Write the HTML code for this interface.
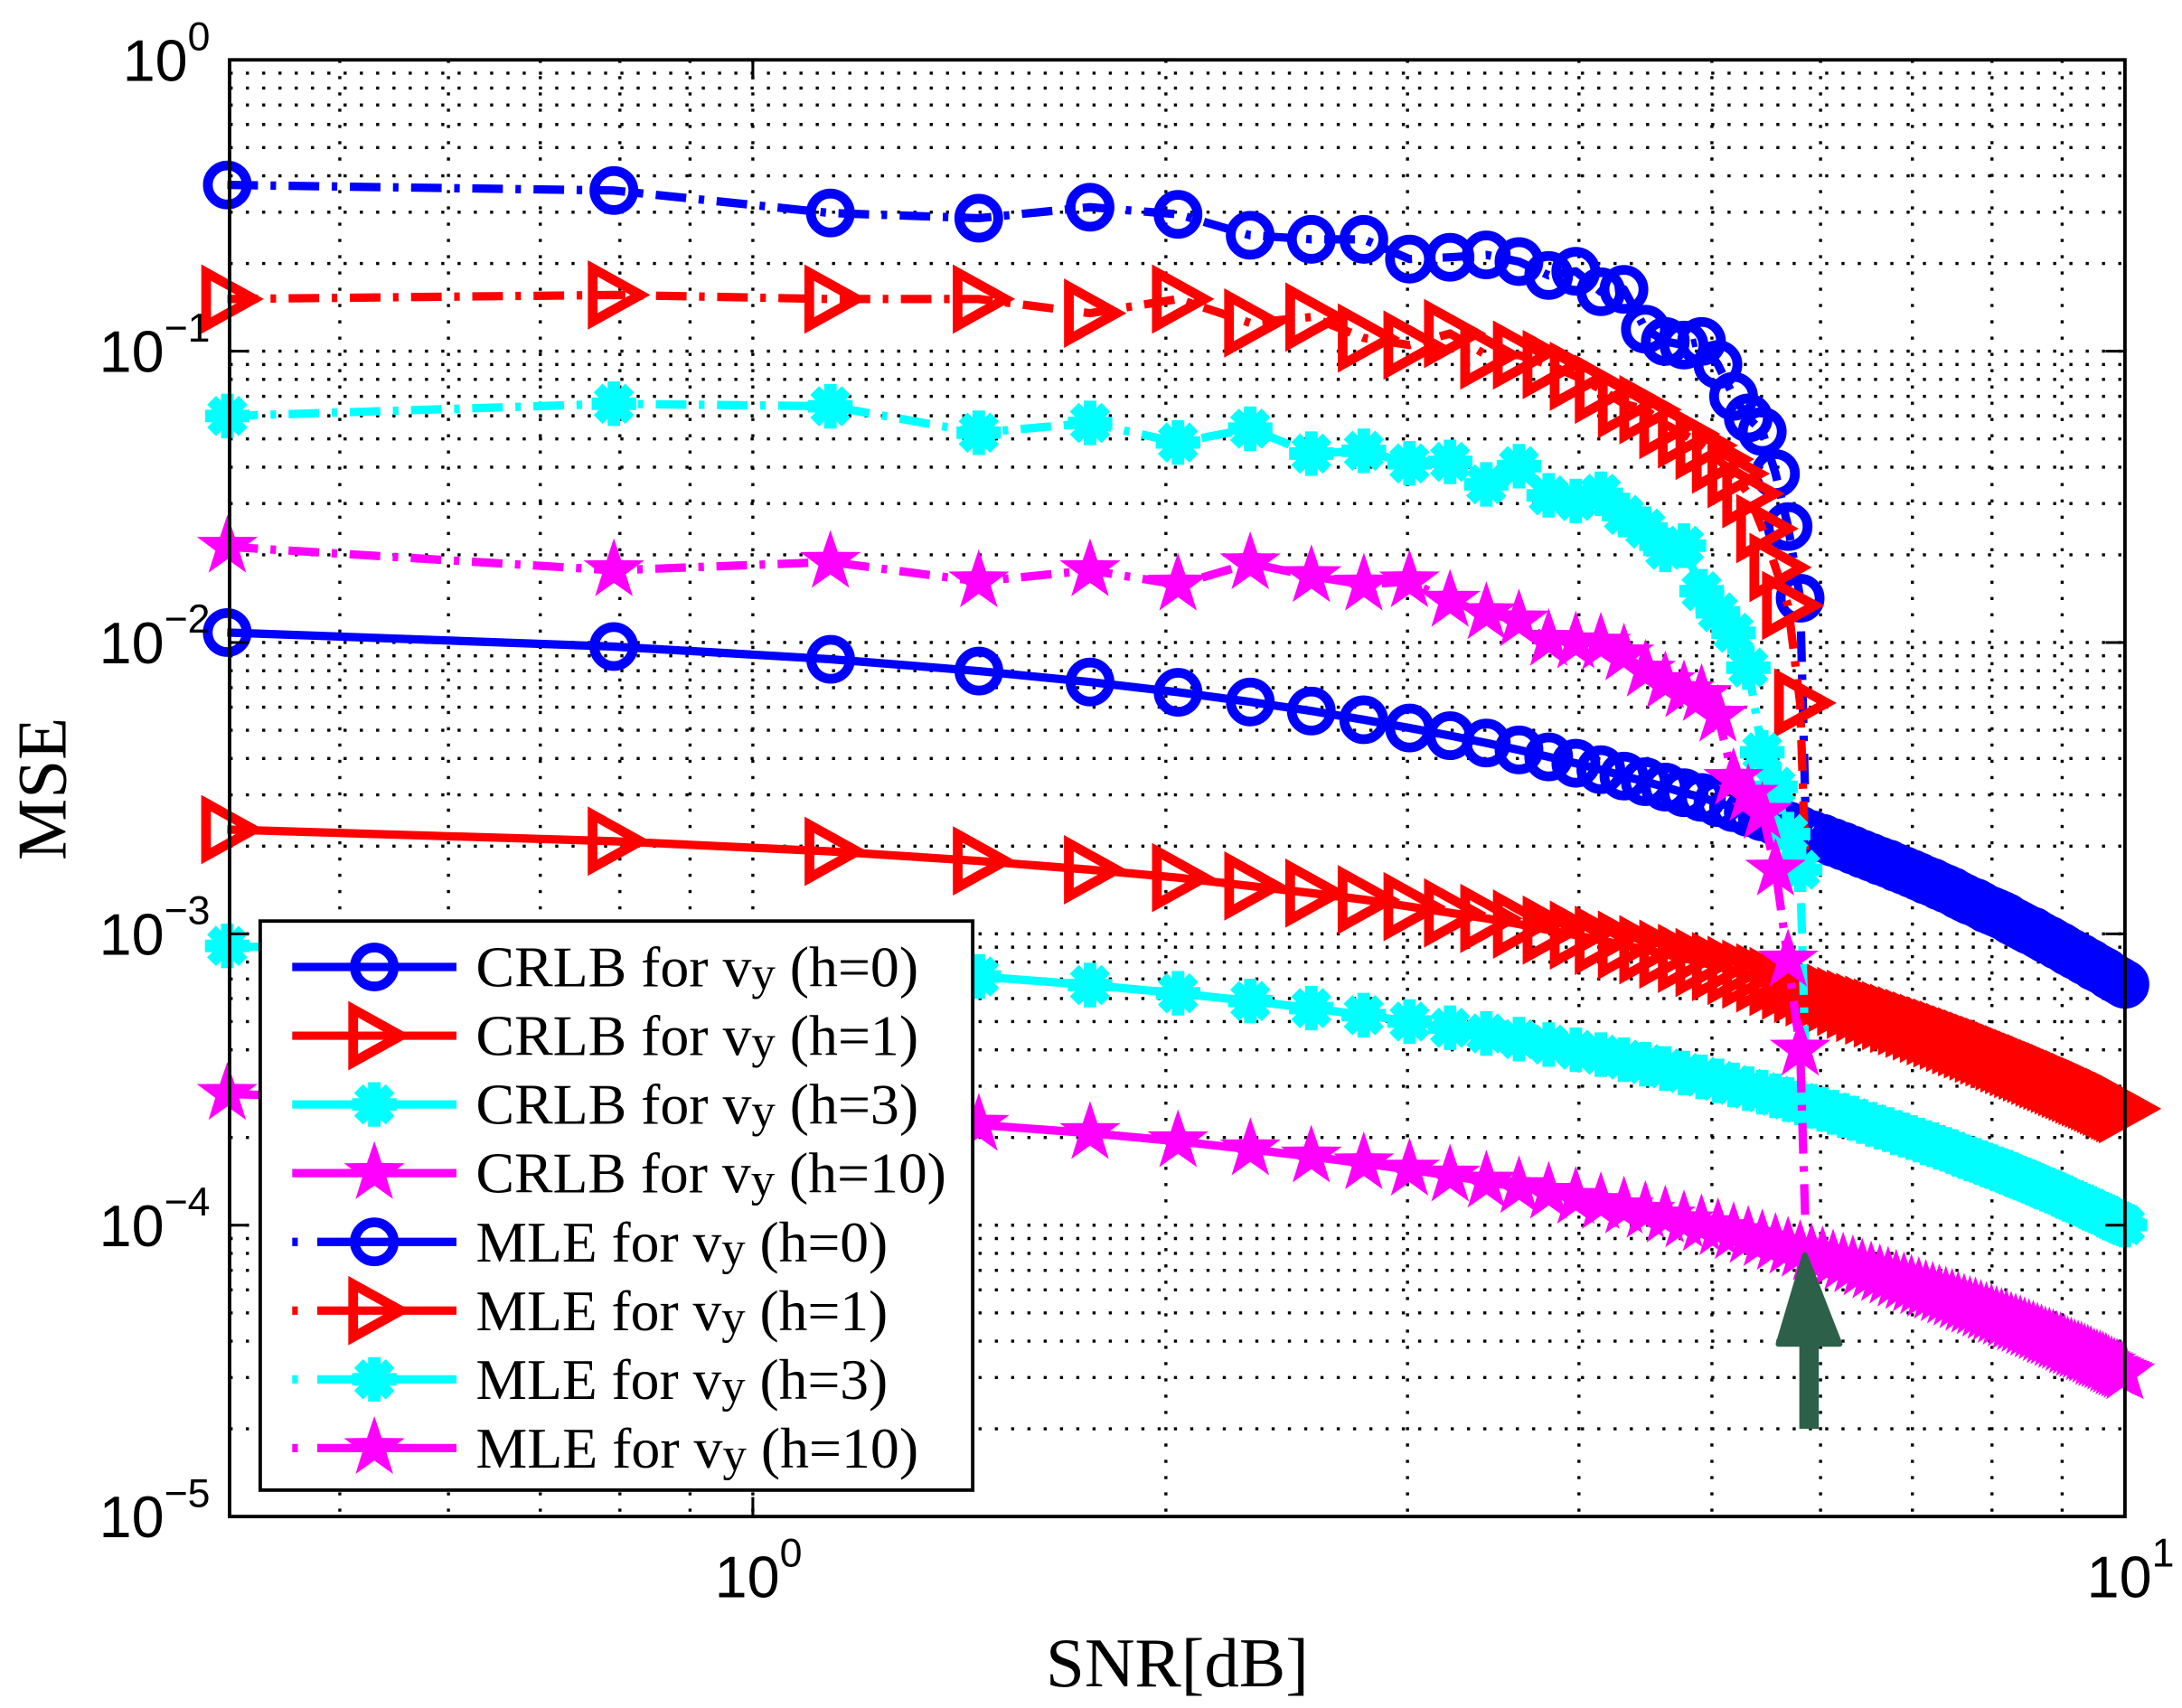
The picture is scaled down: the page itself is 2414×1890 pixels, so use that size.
<!DOCTYPE html>
<html><head><meta charset="utf-8"><style>
html,body{margin:0;padding:0;background:#fff;}
svg{display:block;}
</style></head><body>
<svg id="chart" xmlns="http://www.w3.org/2000/svg" width="2414" height="1890" viewBox="0 0 1568 1227.6">
<rect width="1568" height="1227.6" fill="#fff"/>
<g id="grid"></g>
<g id="series"></g>
<g id="axes"></g>
<g id="legend"></g>
</svg>
<script>
// ---- data ----
const snrLin = [1.1,1.2,1.3,1.4,1.5,1.6,1.7,1.8,1.9,2.0,2.1,2.2,2.3,2.4,2.5,2.6,2.7,2.8,2.9,3.0,3.1,3.2,3.3,3.4,3.5,3.6,3.7,3.8,3.9,4.0,4.1,4.2,4.3,4.4,4.5,4.6,4.7,4.8,4.9,5.0,5.1,5.2,5.3,5.4,5.5,5.6,5.7,5.8,5.9,6.0,6.1,6.2,6.3,6.4,6.5,6.6,6.7,6.8,6.9,7.0,7.1,7.2,7.3,7.4,7.5,7.6,7.7,7.8,7.9,8.0,8.1,8.2,8.3,8.4,8.5,8.6,8.7,8.8,8.9,9.0,9.1,9.2,9.3,9.4,9.5,9.6,9.7,9.8,9.9,10.0];
const snrDb = snrLin.map(v => 10*Math.log10(v));
// CRLB values in units of 1e-4
const crlbH0 = [108.2,96.9,87.6,79.8,73.2,67.5,62.5,58.2,54.3,50.9,47.9,45.2,42.8,40.5,38.5,36.6,34.8,33.3,31.9,30.5,29.4,28.2,27.1,26.1,25.2,24.3,23.5,22.7,21.9,21.3,20.6,20.0,19.4,18.8,18.3,17.8,17.4,16.9,16.5,16.1,15.7,15.3,15.0,14.6,14.3,14.0,13.6,13.3,13.0,12.8,12.5,12.2,12.0,11.8,11.6,11.4,11.1,10.9,10.7,10.5,10.3,10.2,9.98,9.80,9.62,9.50,9.33,9.15,9.05,8.88,8.70,8.60,8.45,8.35,8.25,8.08,8.00,7.90,7.73,7.65,7.56,7.47,7.38,7.23,7.14,7.05,6.96,6.88,6.79,6.71];
const crlbH1 = [22.8,20.8,19.2,17.8,16.6,15.6,14.6,13.8,13.1,12.4,11.8,11.3,10.8,10.3,9.9,9.5,9.15,8.82,8.52,8.24,7.97,7.72,7.49,7.27,7.06,6.86,6.67,6.49,6.32,6.16,6.01,5.86,5.73,5.59,5.47,5.35,5.24,5.13,5.03,4.93,4.83,4.74,4.65,4.57,4.49,4.41,4.33,4.26,4.19,4.12,4.05,3.99,3.93,3.87,3.81,3.75,3.70,3.64,3.59,3.54,3.49,3.45,3.40,3.35,3.31,3.27,3.23,3.19,3.15,3.11,3.07,3.04,3.00,2.97,2.93,2.90,2.87,2.84,2.81,2.78,2.75,2.72,2.69,2.66,2.64,2.61,2.58,2.56,2.53,2.51];
const crlbH3 = [9.09,8.33,7.69,7.14,6.67,6.25,5.88,5.56,5.26,5.0,4.76,4.55,4.35,4.17,4.0,3.85,3.70,3.57,3.45,3.33,3.23,3.13,3.03,2.94,2.86,2.78,2.70,2.63,2.56,2.5,2.44,2.38,2.33,2.27,2.22,2.17,2.13,2.08,2.04,2.0,1.96,1.92,1.89,1.85,1.82,1.79,1.75,1.72,1.69,1.67,1.64,1.61,1.59,1.56,1.54,1.52,1.49,1.47,1.45,1.43,1.41,1.39,1.37,1.35,1.33,1.32,1.30,1.28,1.27,1.25,1.23,1.22,1.20,1.19,1.18,1.16,1.15,1.14,1.12,1.11,1.10,1.09,1.08,1.06,1.05,1.04,1.03,1.02,1.01,1.0];
const crlbH10 = [2.82,2.58,2.38,2.21,2.07,1.94,1.82,1.72,1.63,1.55,1.48,1.41,1.35,1.29,1.24,1.19,1.15,1.11,1.07,1.03,1.00,0.969,0.939,0.911,0.887,0.862,0.837,0.815,0.794,0.775,0.756,0.738,0.722,0.704,0.688,0.673,0.660,0.645,0.632,0.62,0.608,0.595,0.586,0.574,0.564,0.555,0.543,0.533,0.524,0.518,0.508,0.499,0.493,0.484,0.477,0.471,0.462,0.456,0.450,0.443,0.437,0.431,0.425,0.419,0.412,0.409,0.403,0.397,0.394,0.388,0.381,0.378,0.372,0.369,0.366,0.360,0.357,0.353,0.347,0.344,0.341,0.338,0.335,0.329,0.326,0.322,0.319,0.316,0.313,0.31];
// MLE: x positions (dB), last point is the drop-off
const mleSnrDb = [0.414,0.792,1.139,1.461,1.761,2.041,2.304,2.553,2.788,3.010,3.222,3.424,3.617,3.802,3.979,4.150,4.314,4.472,4.624,4.771,4.914,5.051,5.185,5.315,5.441,5.563,5.682,5.798,5.85];
const mleH0 = [0.372,0.356,0.298,0.286,0.312,0.295,0.250,0.242,0.242,0.207,0.210,0.214,0.203,0.182,0.188,0.160,0.163,0.119,0.108,0.105,0.108,0.090,0.070,0.059,0.053,0.038,0.025,0.0142,0.0027];
const mleH1 = [0.151,0.156,0.151,0.151,0.135,0.151,0.125,0.131,0.111,0.105,0.115,0.097,0.097,0.090,0.082,0.074,0.066,0.063,0.056,0.052,0.0475,0.0426,0.038,0.0324,0.0246,0.0181,0.0134,0.0062,0.00175];
const mleH3 = [0.0599,0.066,0.0647,0.0525,0.0567,0.0486,0.0542,0.0445,0.0455,0.0412,0.0417,0.0349,0.0403,0.0320,0.0306,0.0324,0.0274,0.0246,0.0208,0.0215,0.0150,0.0127,0.0108,0.0082,0.0042,0.0032,0.0022,0.00166,0.00038];
const mleH10 = [0.0213,0.0177,0.0189,0.0162,0.0177,0.0158,0.0187,0.0169,0.0158,0.0162,0.0139,0.0126,0.0119,0.0102,0.0100,0.0099,0.0091,0.0080,0.0073,0.0068,0.0066,0.0056,0.0034,0.0030,0.0026,0.00166,0.00081,0.0004,0.0001];
const yTickExp = [0,-1,-2,-3,-4,-5];
const xTickExp = [0,1];
const legendLabels = ["CRLB for ","CRLB for ","CRLB for ","CRLB for ","MLE for ","MLE for ","MLE for ","MLE for "];
const legendH = ["(h=0)","(h=1)","(h=3)","(h=10)","(h=0)","(h=1)","(h=3)","(h=10)"];

// ---- geometry ----
const L=165,R=1527,T=43,B=1090;
const xDecadeW = 986, x0 = 541;
const xMin = Math.pow(10,(L-x0)/xDecadeW), xMax = 10;
function xs(v){return x0 + xDecadeW*Math.log10(v);}
function ys(v){return T + (B-T)*(0 - Math.log10(v))/5;}
const NS="http://www.w3.org/2000/svg";
function el(tag,attrs,parent){const e=document.createElementNS(NS,tag);for(const k in attrs)e.setAttribute(k,attrs[k]);parent.appendChild(e);return e;}
const grid=document.getElementById('grid'),series=document.getElementById('series'),axes=document.getElementById('axes'),legend=document.getElementById('legend');

// grid
const gstyle={stroke:'#000','stroke-width':2.2,'stroke-dasharray':'2.2 9.5',fill:'none'};
for(let d=-1; d<=0; d++){for(let m=1;m<=9;m++){const v=m*Math.pow(10,d);if(v<xMin||v>xMax)continue;const x=xs(v);if(x<=L+1||x>=R-1)continue;
 const ln=el('line',Object.assign({x1:x,x2:x,y1:T,y2:B},gstyle),grid);
 
 }}
for(let d=-5; d<0; d++){for(let m=1;m<=9;m++){const v=m*Math.pow(10,d);const y=ys(v);if(y<=T+1||y>=B-1)continue;
 const ln=el('line',Object.assign({x1:L,x2:R,y1:y,y2:y},gstyle),grid);
 
 }}

// markers
function marker(type,x,y,color,parent){
 let g;
 if(type==='o'){g=el('circle',{cx:x,cy:y,r:14,fill:'none',stroke:color,'stroke-width':7},parent);}
 else if(type==='>'){const s=19;g=el('polygon',{points:`${x-s*0.8},${y-s} ${x+s},${y} ${x-s*0.8},${y+s}`,fill:'none',stroke:color,'stroke-width':7,'stroke-linejoin':'miter'},parent);}
 else if(type==='*'){g=el('g',{},parent);for(let i=0;i<4;i++){const a=i*Math.PI/4;el('line',{x1:x-16*Math.cos(a),y1:y-16*Math.sin(a),x2:x+16*Math.cos(a),y2:y+16*Math.sin(a),stroke:color,'stroke-width':9},g);}el('circle',{cx:x,cy:y,r:10,fill:color},g);}
 else {let pts=[];for(let i=0;i<10;i++){const r=i%2?9:23;const a=-Math.PI/2+i*Math.PI/5;pts.push((x+r*Math.cos(a)).toFixed(1)+','+(y+r*Math.sin(a)).toFixed(1));}g=el('polygon',{points:pts.join(' '),fill:color},parent);}
 return g;
}
function drawSeries(name,xsArr,vals,scale,color,mk,dashed){
 const g=el('g',{},series);
 
 
 const pts=vals.map((v,i)=>[xs(xsArr[i]),ys(v*scale)]);
 const p=el('polyline',{points:pts.map(q=>q[0].toFixed(1)+','+q[1].toFixed(1)).join(' '),fill:'none',stroke:color,'stroke-width':6,'stroke-linejoin':'round'},g);
 if(dashed)p.setAttribute('stroke-dasharray','22 9 4 9');
 
 
 const n = dashed ? pts.length-1 : pts.length;
 for(let i=0;i<n;i++){const m=marker(mk,pts[i][0],pts[i][1],color,g);
  
  }
}
const clip=el('clipPath',{id:'pc'},document.getElementById('chart'));
el('rect',{x:L-40,y:T,width:R-L+80,height:B-T},clip);
series.setAttribute('clip-path','url(#pc)');
drawSeries('crlb-h10',snrDb,crlbH10,1e-4,'#ff00ff','s',false);
drawSeries('crlb-h3',snrDb,crlbH3,1e-4,'#00ffff','*',false);
drawSeries('crlb-h1',snrDb,crlbH1,1e-4,'#ff0000','>',false);
drawSeries('crlb-h0',snrDb,crlbH0,1e-4,'#0000ff','o',false);
drawSeries('mle-h0',mleSnrDb,mleH0,1,'#0000ff','o',true);
drawSeries('mle-h1',mleSnrDb,mleH1,1,'#ff0000','>',true);
drawSeries('mle-h3',mleSnrDb,mleH3,1,'#00ffff','*',true);
drawSeries('mle-h10',mleSnrDb,mleH10,1,'#ff00ff','s',true);

// arrow
const arrow=el('g',{},series);


el('rect',{x:1293,y:960,width:14,height:67,fill:'#2d6049'},arrow);
el('polygon',{points:'1297,902 1322,966 1278,966',fill:'#2d6049',stroke:'#2d6049','stroke-width':4,'stroke-linejoin':'round'},arrow);

// axes box & ticks
const box=el('rect',{x:L,y:T,width:R-L,height:B-T,fill:'none',stroke:'#000','stroke-width':2.5},axes);


yTickExp.forEach(e=>{const y=ys(Math.pow(10,e));
 el('line',{x1:L,x2:L+14,y1:y,y2:y,stroke:'#000','stroke-width':2},axes);
 el('line',{x1:R,x2:R-14,y1:y,y2:y,stroke:'#000','stroke-width':2},axes);
 const t=el('text',{x:L-14,y:y+15,'text-anchor':'end','font-family':'Liberation Sans, sans-serif','font-size':42},axes);
 
 
 t.innerHTML='10<tspan dy="-22" font-size="29">'+(e<0?'\u2212'+(-e):e)+'</tspan>';});
xTickExp.forEach(e=>{const x=xs(Math.pow(10,e));
 el('line',{x1:x,x2:x,y1:B,y2:B-14,stroke:'#000','stroke-width':2},axes);
 el('line',{x1:x,x2:x,y1:T,y2:T+14,stroke:'#000','stroke-width':2},axes);
 const t=el('text',{x:x+4,y:B+58,'text-anchor':'middle','font-family':'Liberation Sans, sans-serif','font-size':42},axes);
 
 
 t.innerHTML='10<tspan dy="-22" font-size="29">'+e+'</tspan>';});
const xt=el('text',{x:846,y:1212,'text-anchor':'middle','font-family':'Liberation Serif, serif','font-size':50},axes);
xt.textContent='SNR[dB]';


const yt=el('text',{x:0,y:0,'text-anchor':'middle','font-family':'Liberation Serif, serif','font-size':50,transform:'translate(47,567) rotate(-90)'},axes);
yt.textContent='MSE';



// legend
const lb=el('rect',{x:187,y:662,width:512,height:409,fill:'#fff',stroke:'#000','stroke-width':2.5},legend);


const lColors=['#0000ff','#ff0000','#00ffff','#ff00ff','#0000ff','#ff0000','#00ffff','#ff00ff'];
const lMk=['o','>','*','s','o','>','*','s'];
legendLabels.forEach((lab,i)=>{
 const y=695+i*49.4;
 const g=el('g',{},legend);
 
 
 const ln=el('line',{x1:210,x2:328,y1:y,y2:y,stroke:lColors[i],'stroke-width':6},g);
 if(i>=4)ln.setAttribute('stroke-dasharray','4 14 100 12 200');
 marker(lMk[i],269,y,lColors[i],g);
 const t=el('text',{x:342,y:y+14,'font-family':'Liberation Serif, serif','font-size':41,'textLength':(i===3?338:(i<3?318:(i===7?318:296))),'lengthAdjust':'spacingAndGlyphs'},g);
 t.innerHTML=lab+'v<tspan font-size="34" dy="2">y</tspan><tspan dy="-2"> '+legendH[i]+'</tspan>';
});
</script>
</body></html>
